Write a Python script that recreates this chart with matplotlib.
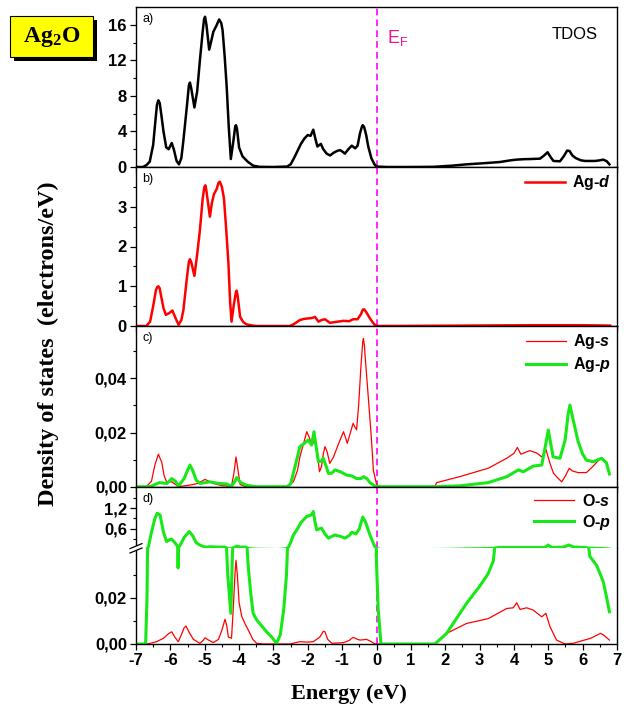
import matplotlib.pyplot as plt
from matplotlib.lines import Line2D
from matplotlib.patches import Rectangle
from matplotlib.ticker import MultipleLocator, FixedLocator, FuncFormatter

plt.rcParams['font.family'] = ['Liberation Sans', 'DejaVu Sans']
plt.rcParams['axes.unicode_minus'] = False
plt.rcParams['mathtext.fontset'] = 'custom'
plt.rcParams['mathtext.rm'] = 'Liberation Sans'
plt.rcParams['mathtext.it'] = 'Liberation Sans:italic'
plt.rcParams['mathtext.bf'] = 'Liberation Sans:bold'
plt.rcParams['mathtext.bfit'] = 'Liberation Sans:italic:bold'

# ---- data (energy in eV, DOS in electrons/eV) ----
tdos_e = [-7.0, -6.8, -6.7, -6.6, -6.5, -6.44, -6.39, -6.35, -6.31, -6.26, -6.2, -6.12, -6.05, -5.96,
          -5.9, -5.82, -5.75, -5.68, -5.62, -5.52, -5.46, -5.43, -5.39, -5.3, -5.22, -5.14, -5.06,
          -5.02, -4.99, -4.95, -4.87, -4.82, -4.75, -4.66, -4.58, -4.52, -4.48, -4.42, -4.36, -4.3,
          -4.24, -4.17, -4.11, -4.09, -4.06, -4.0, -3.9, -3.75, -3.59, -3.4, -3.0, -2.6, -2.5, -2.4,
          -2.3, -2.2, -2.1, -2.0, -1.92, -1.84, -1.78, -1.72, -1.62, -1.55, -1.45, -1.35, -1.25,
          -1.15, -1.06, -0.98, -0.92, -0.82, -0.72, -0.62, -0.55, -0.48, -0.42, -0.4, -0.36, -0.3,
          -0.24, -0.15, -0.06, 0.0, 0.3, 1.0, 1.65, 2.2, 2.62, 3.1, 3.59, 3.9, 4.08, 4.3, 4.5, 4.76,
          4.88, 4.98, 5.07, 5.15, 5.34, 5.45, 5.55, 5.62, 5.7, 5.8, 5.95, 6.07, 6.36, 6.5, 6.6,
          6.7, 6.78]
tdos_v = [0, 0, 0.2, 0.6, 2.5, 5.0, 7.0, 7.5, 7.2, 5.8, 4.0, 2.2, 2.0, 2.7,
          2.0, 0.7, 0.3, 1.0, 3.0, 6.8, 9.2, 9.5, 8.8, 6.7, 8.5, 12.0, 15.2,
          16.6, 16.9, 16.0, 13.2, 14.0, 15.2, 15.9, 16.6, 16.2, 15.4, 12.5, 9.0, 4.5,
          0.9, 2.8, 4.6, 4.7, 4.3, 2.2, 1.2, 0.6, 0.15, 0.02, 0, 0.05, 0.3, 1.0,
          1.8, 2.6, 3.2, 3.6, 3.5, 4.2, 3.2, 2.3, 2.6, 2.0, 1.5, 1.3, 1.6,
          1.8, 1.9, 1.7, 1.5, 2.0, 2.4, 2.1, 2.4, 3.8, 4.6, 4.7, 4.5, 3.6,
          2.3, 1.0, 0.3, 0.05, 0, 0, 0.02, 0.15, 0.3, 0.42, 0.56, 0.75, 0.83, 0.88, 0.9, 0.94,
          1.3, 1.66, 1.1, 0.68, 0.64, 1.2, 1.85, 1.8, 1.3, 1.0, 0.75, 0.68, 0.68, 0.75, 0.83,
          0.65, 0.3]

agd_e = [-7.0, -6.7, -6.59, -6.5, -6.42, -6.38, -6.35, -6.31, -6.28, -6.2, -6.13, -6.04, -5.94,
         -5.85, -5.76, -5.68, -5.62, -5.52, -5.46, -5.43, -5.39, -5.3, -5.22, -5.14, -5.06, -5.01,
         -4.98, -4.95, -4.85, -4.79, -4.73, -4.65, -4.6, -4.56, -4.5, -4.44, -4.38, -4.31, -4.26,
         -4.22, -4.15, -4.09, -4.07, -4.04, -3.97, -3.88, -3.78, -3.6, -3.49, -2.52, -2.4, -2.23,
         -2.1, -1.99, -1.88, -1.79, -1.69, -1.6, -1.5, -1.42, -1.36, -1.2, -0.96, -0.8, -0.68,
         -0.55, -0.45, -0.4, -0.36, -0.3, -0.19, -0.1, -0.04, 0.05, 2.5, 4.5, 6.0, 6.8]
agd_v = [0, 0, 0.11, 0.5, 0.9, 0.98, 1.0, 0.95, 0.8, 0.45, 0.28, 0.32, 0.39,
         0.2, 0.03, 0.15, 0.4, 1.2, 1.62, 1.68, 1.6, 1.26, 1.8, 2.41, 3.2, 3.5,
         3.54, 3.4, 2.75, 3.1, 3.32, 3.45, 3.6, 3.63, 3.5, 3.21, 2.5, 1.58, 0.6,
         0.11, 0.55, 0.86, 0.89, 0.75, 0.23, 0.1, 0.04, 0.01, 0, 0, 0.05, 0.15,
         0.18, 0.19, 0.2, 0.23, 0.11, 0.15, 0.17, 0.12, 0.08, 0.1, 0.13, 0.12, 0.17,
         0.17, 0.3, 0.41, 0.42, 0.35, 0.19, 0.08, 0.02, 0, 0.01, 0.02, 0.02, 0.01]

ags_e = [-7.0, -6.7, -6.55, -6.45, -6.35, -6.25, -6.18, -6.11, -5.96, -5.85, -5.77, -5.6, -5.43,
         -5.2, -4.99, -4.85, -4.75, -4.5, -4.3, -4.22, -4.15, -4.09, -4.03, -3.97, -3.8, -2.6,
         -2.42, -2.3, -2.23, -2.1, -2.03, -1.95, -1.89, -1.82, -1.79, -1.72, -1.66, -1.6, -1.55,
         -1.5, -1.44, -1.36, -1.25, -1.1, -0.96, -0.9, -0.85, -0.77, -0.68, -0.63, -0.58, -0.52,
         -0.45, -0.4, -0.38, -0.35, -0.33, -0.24, -0.15, -0.09, 0.0, 0.05, 1.7, 1.75, 2.42, 3.25,
         3.79, 4.0, 4.1, 4.2, 4.46, 4.65, 4.81, 4.93, 5.05, 5.15, 5.24, 5.39, 5.5, 5.61, 5.7,
         5.87, 6.11, 6.3, 6.52, 6.69, 6.78]
ags_v = [0, 0, 0.002, 0.008, 0.012, 0.009, 0.004, 0.0018, 0.0018, 0.0008, 0.0, 0.0003, 0.0006,
         0.0012, 0.0027, 0.0018, 0.0012, 0.0004, 0.0002, 0.0002, 0.005, 0.011, 0.006, 0.0008, 0, 0,
         0.0018, 0.006, 0.011, 0.017, 0.0203, 0.018, 0.0154, 0.0165, 0.0178, 0.012, 0.0055, 0.0075, 0.012,
         0.0148, 0.013, 0.0086, 0.011, 0.016, 0.0203, 0.018, 0.016, 0.0195, 0.0234, 0.022, 0.021, 0.03,
         0.045, 0.0535, 0.0547, 0.052, 0.048, 0.0332, 0.018, 0.006, 0.001, 0, 0, 0.0015, 0.0037, 0.0068,
         0.0105, 0.0123, 0.0145, 0.012, 0.0133, 0.0125, 0.011, 0.0138, 0.0086, 0.005, 0.0037, 0.0018, 0.004,
         0.0068, 0.0058, 0.0052, 0.0052, 0.0075, 0.0105, 0.0086, 0.0047]

agp_e = [-7.0, -6.6, -6.45, -6.32, -6.1, -5.96, -5.85, -5.77, -5.6, -5.5, -5.43, -5.35, -5.25,
         -5.14, -4.99, -4.85, -4.6, -4.36, -4.22, -4.12, -4.07, -3.95, -3.78, -3.5, -2.61, -2.5,
         -2.42, -2.32, -2.23, -2.1, -1.99, -1.89, -1.82, -1.76, -1.69, -1.6, -1.55, -1.45, -1.4,
         -1.3, -1.21, -1.05, -0.87, -0.72, -0.58, -0.45, -0.38, -0.28, -0.19, -0.04, 0.1, 1.75,
         2.4, 3.25, 3.79, 4.13, 4.27, 4.56, 4.81, 4.9, 5.0, 5.07, 5.14, 5.34, 5.49, 5.58, 5.63,
         5.7, 5.87, 6.0, 6.11, 6.31, 6.55, 6.69, 6.78]
agp_v = [0, 0, 0.0008, 0.0015, 0.0012, 0.003, 0.002, 0.0002, 0.003, 0.006, 0.008, 0.006, 0.0025,
         0.0012, 0.0015, 0.0018, 0.0012, 0.001, 0.0002, 0.002, 0.0034, 0.0015, 0.0005, 0, 0, 0.001,
         0.005, 0.01, 0.0148, 0.016, 0.0172, 0.0154, 0.0203, 0.015, 0.0092, 0.0095, 0.0105, 0.007, 0.0049,
         0.005, 0.0062, 0.0055, 0.0043, 0.004, 0.003, 0.003, 0.0037, 0.003, 0.0015, 0.0002, 0, 0,
         0.0003, 0.0015, 0.0037, 0.0062, 0.0055, 0.0076, 0.008, 0.014, 0.0209, 0.016, 0.011, 0.0105, 0.0172, 0.027, 0.0301,
         0.026, 0.0166, 0.012, 0.0098, 0.0092, 0.0105, 0.0089, 0.0047]

os_e = [-7.0, -6.7, -6.55, -6.4, -6.2, -6.05, -5.96, -5.87, -5.77, -5.68, -5.6, -5.545, -5.45,
        -5.33, -5.14, -5.05, -4.99, -4.9, -4.75, -4.6, -4.5, -4.41, -4.36, -4.31, -4.22, -4.17,
        -4.12, -4.09, -4.05, -4.0, -3.92, -3.8, -3.73, -3.6, -3.49, -3.3, -2.52, -2.23, -2.0,
        -1.84, -1.65, -1.55, -1.5, -1.42, -1.3, -0.96, -0.8, -0.68, -0.55, -0.48, -0.29, -0.15,
        -0.04, 1.7, 2.04, 2.62, 3.25, 3.79, 3.98, 4.08, 4.18, 4.37, 4.56, 4.81, 4.93, 5.05, 5.24,
        5.49, 5.73, 6.0, 6.22, 6.52, 6.6, 6.78]
os_v = [0, 0, 0.0004, 0.001, 0.0025, 0.0045, 0.0053, 0.003, 0.001, 0.004, 0.007, 0.0078, 0.005,
        0.002, 0.0003, 0.0015, 0.0027, 0.0018, 0.0006, 0.002, 0.006, 0.0107, 0.008, 0.003, 0.0025, 0.015,
        0.03, 0.0363, 0.03, 0.018, 0.0118, 0.008, 0.006, 0.002, 0.0003, 0, 0, 0.001, 0.0008,
        0.001, 0.003, 0.0055, 0.0053, 0.002, 0.0003, 0.0006, 0.0015, 0.0029, 0.002, 0.0017, 0.002, 0.001,
        0, 0, 0.0046, 0.0089, 0.011, 0.0154, 0.0157, 0.0179, 0.015, 0.0157, 0.0147, 0.0118, 0.0133, 0.0075, 0.0017,
        0, 0.0003, 0.0015, 0.0024, 0.0046, 0.004, 0.0017]

op_e = [-7.0, -6.72, -6.68, -6.64, -6.55, -6.45, -6.38, -6.3, -6.2, -6.11, -6.03, -5.96, -5.87,
        -5.8, -5.785, -5.775, -5.76, -5.7, -5.6, -5.45, -5.35, -5.25, -5.14, -5.0, -4.85, -4.6,
        -4.4, -4.36, -4.33, -4.24, -4.19, -4.12, -4.07, -3.97, -3.8, -3.78, -3.73, -3.66, -3.59,
        -3.49, -3.35, -3.2, -3.05, -2.91, -2.8, -2.7, -2.62, -2.57, -2.5, -2.42, -2.3, -2.2,
        -2.03, -1.9, -1.84, -1.79, -1.74, -1.66, -1.6, -1.5, -1.4, -1.3, -1.21, -1.05, -0.92,
        -0.8, -0.72, -0.6, -0.5, -0.4, -0.32, -0.19, -0.1, -0.04, 0.0, 0.05, 0.13, 1.7, 2.04,
        2.62, 3.0, 3.25, 3.4, 3.5, 3.6, 4.5, 4.9, 5.0, 5.1, 5.45, 5.59, 5.75, 6.07, 6.15, 6.21,
        6.41, 6.52, 6.6, 6.7, 6.78]
op_v = [0, 0, 0.02, 0.07, 0.5, 0.9, 1.05, 1.0, 0.5, 0.23, 0.28, 0.3, 0.2,
        0.1, 0.06, 0.033, 0.06, 0.15, 0.35, 0.52, 0.4, 0.2, 0.13, 0.07, 0.08, 0.07,
        0.07, 0.04, 0.03, 0.0133, 0.04, 0.07, 0.1, 0.07, 0.07, 0.045, 0.033, 0.022, 0.0133,
        0.0105, 0.008, 0.0053, 0.003, 0.0003, 0.004, 0.015, 0.03, 0.05, 0.2, 0.42, 0.6, 0.78,
        0.96, 1.0, 1.1, 0.8, 0.57, 0.6, 0.62, 0.45, 0.33, 0.38, 0.42, 0.38, 0.33,
        0.4, 0.5, 0.45, 0.6, 0.94, 0.8, 0.42, 0.2, 0.07, 0.035, 0.015, 0, 0, 0.0046,
        0.0176, 0.025, 0.0305, 0.036, 0.05, 0.06, 0.06, 0.06, 0.13, 0.06, 0.07, 0.13, 0.07, 0.06, 0.045, 0.038,
        0.034, 0.03, 0.027, 0.02, 0.014]

x_ticks = [-7, -6, -5, -4, -3, -2, -1, 0, 1, 2, 3, 4, 5, 6, 7]

RED = '#ff0000'
GREEN = '#18e818'
MAGENTA = '#ff00ff'

W, H = 637, 711
fig = plt.figure(figsize=(W / 100, H / 100), dpi=100)


def px_box(top, bottom, left=136, right=617):
    return [left / W, 1 - bottom / H, (right - left) / W, (bottom - top) / H]


ax_a = fig.add_axes(px_box(7, 167))
ax_b = fig.add_axes(px_box(167, 326))
ax_c = fig.add_axes(px_box(326, 486.7))
ax_du = fig.add_axes(px_box(486.7, 548.3))
ax_dl = fig.add_axes(px_box(548.3, 644))
axes = [ax_a, ax_b, ax_c, ax_du, ax_dl]

comma = FuncFormatter(lambda v, p: f'{v:.2f}'.replace('.', ','))
comma1 = FuncFormatter(lambda v, p: f'{v:.1f}'.replace('.', ','))

for ax in axes:
    ax.set_xlim(-7, 7)
    ax.xaxis.set_major_locator(FixedLocator(x_ticks))
    ax.xaxis.set_minor_locator(MultipleLocator(0.5))
    ax.tick_params(axis='both', which='major', direction='out', length=4.5, width=0.9, pad=2)
    ax.tick_params(axis='both', which='minor', direction='out', length=2.5, width=0.8)
    ax.tick_params(axis='x', labelbottom=False)
    for sp in ax.spines.values():
        sp.set_linewidth(1.0)
    ax.axvline(0, color=MAGENTA, lw=1.2, dashes=(4, 2.5), zorder=1)

# a) total DOS
ax_a.plot(tdos_e, tdos_v, color='black', lw=1.8, solid_joinstyle='round')
ax_a.set_ylim(0, 18)
ax_a.yaxis.set_major_locator(FixedLocator([0, 4, 8, 12, 16]))
ax_a.yaxis.set_minor_locator(FixedLocator([2, 6, 10, 14]))
ax_a.text(0.013, 0.96, 'a)', transform=ax_a.transAxes, fontsize=9, va='top')
ax_a.text(0.96, 0.83, 'TDOS', transform=ax_a.transAxes, fontsize=12, ha='right', va='center')
ax_a.text(0.3, 14.5, r'E$_\mathregular{F}$', color='#f0148c', fontsize=13, va='center')

# b) Ag-d
ax_b.plot(agd_e, agd_v, color=RED, lw=1.8, solid_joinstyle='round', label=r'Ag-$\mathbfit{d}$')
ax_b.set_ylim(0, 4)
ax_b.yaxis.set_major_locator(FixedLocator([0, 1, 2, 3]))
ax_b.yaxis.set_minor_locator(FixedLocator([0.5, 1.5, 2.5, 3.5]))
ax_b.text(0.013, 0.96, 'b)', transform=ax_b.transAxes, fontsize=9, va='top')

# c) Ag-s, Ag-p
ax_c.plot(ags_e, ags_v, color=RED, lw=0.9, label=r'Ag-$\mathbfit{s}$')
ax_c.plot(agp_e, agp_v, color=GREEN, lw=2.2, solid_joinstyle='round', label=r'Ag-$\mathbfit{p}$')
ax_c.set_ylim(0, 0.0593)
ax_c.yaxis.set_major_locator(FixedLocator([0, 0.02, 0.04]))
ax_c.yaxis.set_minor_locator(FixedLocator([0.01, 0.03, 0.05]))
ax_c.yaxis.set_major_formatter(comma)
ax_c.text(0.013, 0.96, 'c)', transform=ax_c.transAxes, fontsize=9, va='top')

# d) O-s, O-p with broken y axis
for ax in (ax_du, ax_dl):
    ax.plot(os_e, os_v, color=RED, lw=0.9, label=r'O-$\mathbfit{s}$')
    ax.plot(op_e, op_v, color=GREEN, lw=2.2, solid_joinstyle='round', label=r'O-$\mathbfit{p}$')
ax_du.set_ylim(0.035, 1.82)
ax_du.yaxis.set_major_locator(FixedLocator([0.6, 1.2]))
ax_du.yaxis.set_minor_locator(FixedLocator([0.3, 0.9, 1.5]))
ax_du.yaxis.set_major_formatter(comma1)
ax_du.spines['bottom'].set_visible(False)
ax_du.tick_params(axis='x', which='both', bottom=False)
ax_du.text(0.013, 0.9, 'd)', transform=ax_du.transAxes, fontsize=9, va='top')

ax_dl.set_ylim(0, 0.0415)
ax_dl.yaxis.set_major_locator(FixedLocator([0, 0.02]))
ax_dl.yaxis.set_minor_locator(FixedLocator([0.01, 0.03]))
ax_dl.yaxis.set_major_formatter(comma)
ax_dl.spines['top'].set_visible(False)
ax_dl.tick_params(axis='x', labelbottom=True)

for ax in axes:
    for lab in ax.get_yticklabels() + ax.get_xticklabels():
        lab.set_fontsize(12)
        lab.set_fontweight('bold')

leg_kw = dict(loc='upper right', frameon=False, handlelength=2.5,
              handletextpad=0.45, labelspacing=0.25, borderaxespad=0.2, borderpad=0.2,
              prop={'weight': 'bold', 'size': 11.5})
ax_b.legend(**leg_kw)
ax_c.legend(**leg_kw)
ax_du.legend(**leg_kw)

# axis break marks on the left spine
yb = 1 - 548.3 / H
xb = 136 / W
fig.add_artist(Rectangle((xb - 2 / W, yb - 2 / H), 4 / W, 4 / H, transform=fig.transFigure,
                         facecolor='white', edgecolor='none', zorder=5))
for dy in (-2.2, 2.2):
    fig.add_artist(Line2D([xb - 6 / W, xb + 6 / W], [yb + (dy - 2.5) / H, yb + (dy + 2.5) / H],
                          transform=fig.transFigure, color='black', lw=0.9, zorder=6))

# axis titles
fig.text(349 / W, 1 - 694 / H, 'Energy (eV)', family='Liberation Serif', fontweight='bold',
         fontsize=16, ha='center', va='center')
fig.text(48 / W, 1 - 344 / H, 'Density of states  (electrons/eV)', family='Liberation Serif',
         fontweight='bold', fontsize=17.5, ha='center', va='center', rotation=90)

# compound label box with shadow
fig.add_artist(Rectangle((14 / W, 1 - 61 / H), 83 / W, 41 / H, transform=fig.transFigure,
                         facecolor='black', edgecolor='none'))
fig.add_artist(Rectangle((10 / W, 1 - 57 / H), 83 / W, 41 / H, transform=fig.transFigure,
                         facecolor='#ffff00', edgecolor='black', lw=0.8))
fig.text(51.5 / W, 1 - 37 / H, r'Ag$_\mathregular{2}$O', family='Liberation Serif',
         fontweight='bold', fontsize=17, ha='center', va='center')

fig.savefig('out.png', dpi=100)
